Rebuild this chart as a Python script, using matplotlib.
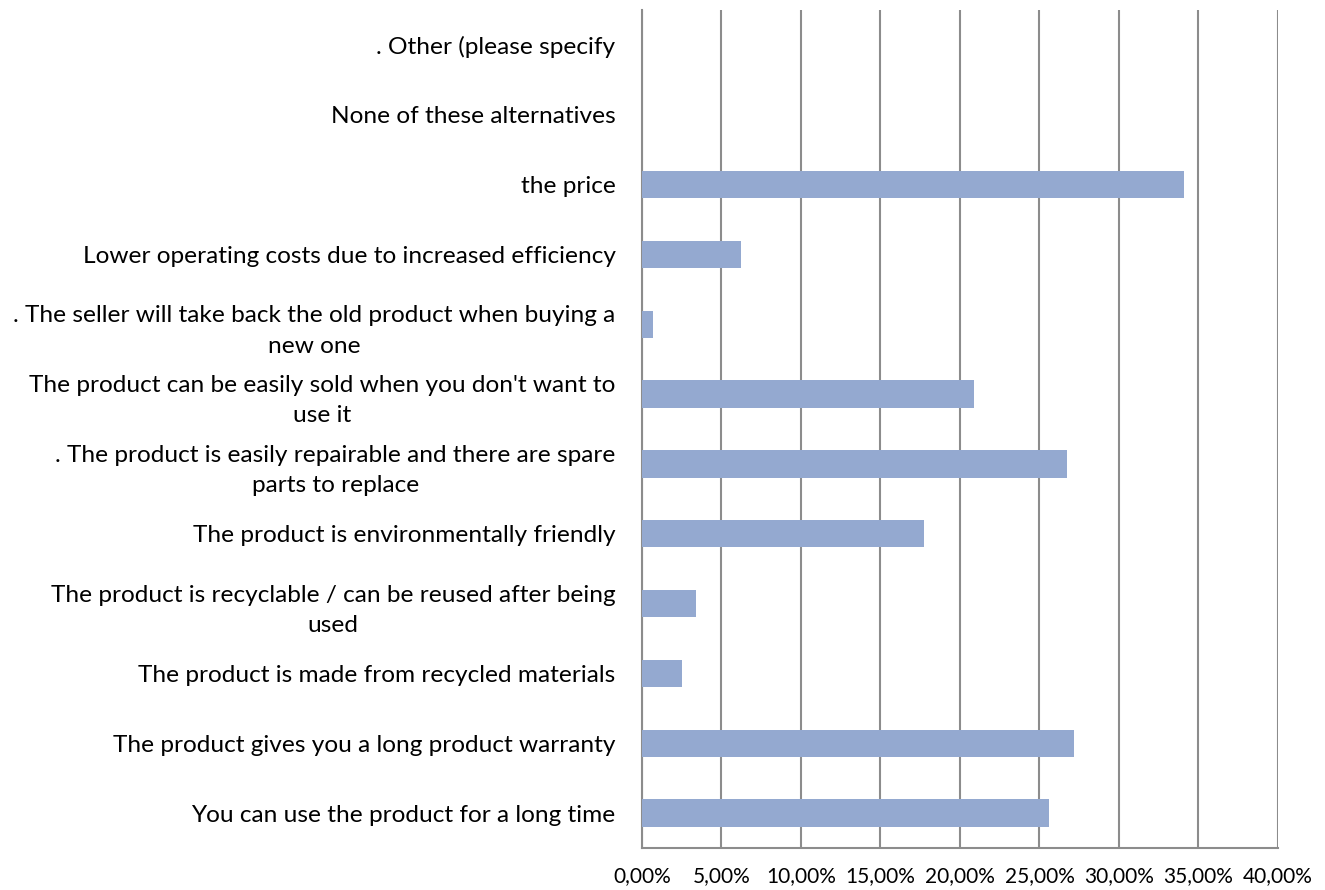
import matplotlib
matplotlib.use("Agg")
import matplotlib.pyplot as plt
from matplotlib.ticker import FuncFormatter, MultipleLocator

categories = [
    "You can use the product for a long time",
    "The product gives you a long product warranty",
    "The product is made from recycled materials",
    "The product is recyclable / can be reused after being\nused",
    "The product is environmentally friendly",
    ". The product is easily repairable and there are spare\nparts to replace",
    "The product can be easily sold when you don't want to\nuse it",
    ". The seller will take back the old product when buying a\nnew one",
    "Lower operating costs due to increased efficiency",
    "the price",
    "None of these alternatives",
    ". Other (please specify",
]
values = [25.58, 27.15, 2.50, 3.43, 17.71, 26.75, 20.86, 0.70, 6.23, 34.08, 0.0, 0.0]

plt.rcParams['font.family'] = ['Lato', 'DejaVu Sans']

fig = plt.figure(figsize=(13.25, 8.9), dpi=100)
ax = fig.add_axes([0.4845, 0.0472, 0.48, 0.9416])

y = list(range(len(categories)))
ax.barh(y, values, height=0.39, color='#94A9D0', zorder=3)

ax.set_xlim(0, 40)
ax.set_ylim(-0.5, len(categories) - 0.5)
ax.xaxis.set_major_locator(MultipleLocator(5))
ax.xaxis.set_major_formatter(FuncFormatter(lambda v, p: f"{v:.2f}%".replace('.', ',')))
ax.set_yticks(y)
ax.set_yticklabels(categories, multialignment='center', linespacing=1.55)

ax.grid(axis='x', color='#8c8c8c', linewidth=1.5, zorder=0)
for s in ['top', 'right']:
    ax.spines[s].set_visible(False)
ax.spines['left'].set_color('#8c8c8c')
ax.spines['left'].set_linewidth(1.5)
ax.spines['bottom'].set_color('#8c8c8c')
ax.spines['bottom'].set_linewidth(1.5)

ax.tick_params(axis='y', length=0, pad=19, labelsize=17.6, labelcolor='black')
ax.tick_params(axis='x', length=0, pad=13, labelsize=15, labelcolor='black')

fig.savefig('out.png', dpi=100)
